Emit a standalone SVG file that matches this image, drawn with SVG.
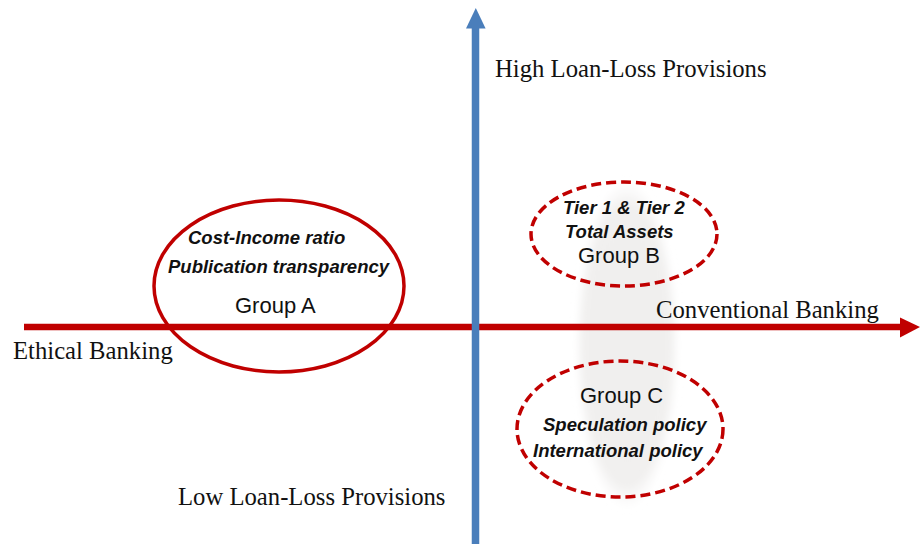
<svg xmlns="http://www.w3.org/2000/svg" width="922" height="544" viewBox="0 0 922 544">
  <defs>
    <radialGradient id="shade" cx="0.5" cy="0.5" r="0.5">
      <stop offset="0" stop-color="#f0efee"/>
      <stop offset="0.85" stop-color="#f1f0ef"/>
      <stop offset="1" stop-color="#f6f5f5" stop-opacity="0"/>
    </radialGradient>
    <filter id="soft" x="-20%" y="-20%" width="140%" height="140%">
      <feGaussianBlur stdDeviation="3"/>
    </filter>
  </defs>
  <style>
    .axis-label { font-family: "Liberation Serif", "Times New Roman", serif; font-size: 24.7px; fill: #111; }
    .factor { font-family: "Liberation Sans", Arial, sans-serif; font-size: 18.5px; font-weight: bold; font-style: italic; fill: #111; }
    .group { font-family: "Liberation Sans", Arial, sans-serif; font-size: 22px; fill: #111; }
    .solid { fill: none; stroke: #c00000; stroke-width: 3.5; }
    .dashed { fill: none; stroke: #c00000; stroke-width: 3.5; stroke-dasharray: 10 5; }
  </style>

  <rect width="922" height="544" fill="#ffffff"/>

  <!-- soft shaded band behind groups B and C -->
  <ellipse cx="627" cy="345" rx="52" ry="165" fill="url(#shade)" filter="url(#soft)"/>

  <g id="connectors">
    <!-- horizontal axis: ethical to conventional banking -->
    <line x1="24" y1="327" x2="902" y2="327" stroke="#c00000" stroke-width="6.5"/>
    <polygon points="900,317.5 920,327 900,337.5" fill="#c00000"/>
    <!-- vertical axis: loan-loss provisions -->
    <line x1="475.5" y1="544" x2="475.5" y2="26" stroke="#4a7ebb" stroke-width="7.5"/>
    <polygon points="466,28.5 475.8,8 485.6,28.5" fill="#4a7ebb"/>
  </g>

  <g id="axis-labels">
    <text class="axis-label" x="495" y="77">High Loan-Loss Provisions</text>
    <text class="axis-label" x="13" y="359">Ethical Banking</text>
    <text class="axis-label" x="656" y="318">Conventional Banking</text>
    <text class="axis-label" x="178" y="505">Low Loan-Loss Provisions</text>
  </g>

  <g id="group-a">
    <ellipse class="solid" cx="279" cy="286" rx="125" ry="86"/>
    <text class="factor" x="188" y="244">Cost-Income ratio</text>
    <text class="factor" x="168" y="273">Publication transparency</text>
    <text class="group" x="235" y="313">Group A</text>
  </g>

  <g id="group-b">
    <ellipse class="dashed" cx="624" cy="234" rx="93" ry="52"/>
    <text class="factor" x="563" y="214">Tier 1 &amp; Tier 2</text>
    <text class="factor" x="565" y="238">Total Assets</text>
    <text class="group" x="578" y="263">Group B</text>
  </g>

  <g id="group-c">
    <ellipse class="dashed" cx="620" cy="429" rx="103" ry="68"/>
    <text class="group" x="580" y="403">Group C</text>
    <text class="factor" x="543" y="431">Speculation policy</text>
    <text class="factor" x="533" y="457">International policy</text>
  </g>
</svg>
